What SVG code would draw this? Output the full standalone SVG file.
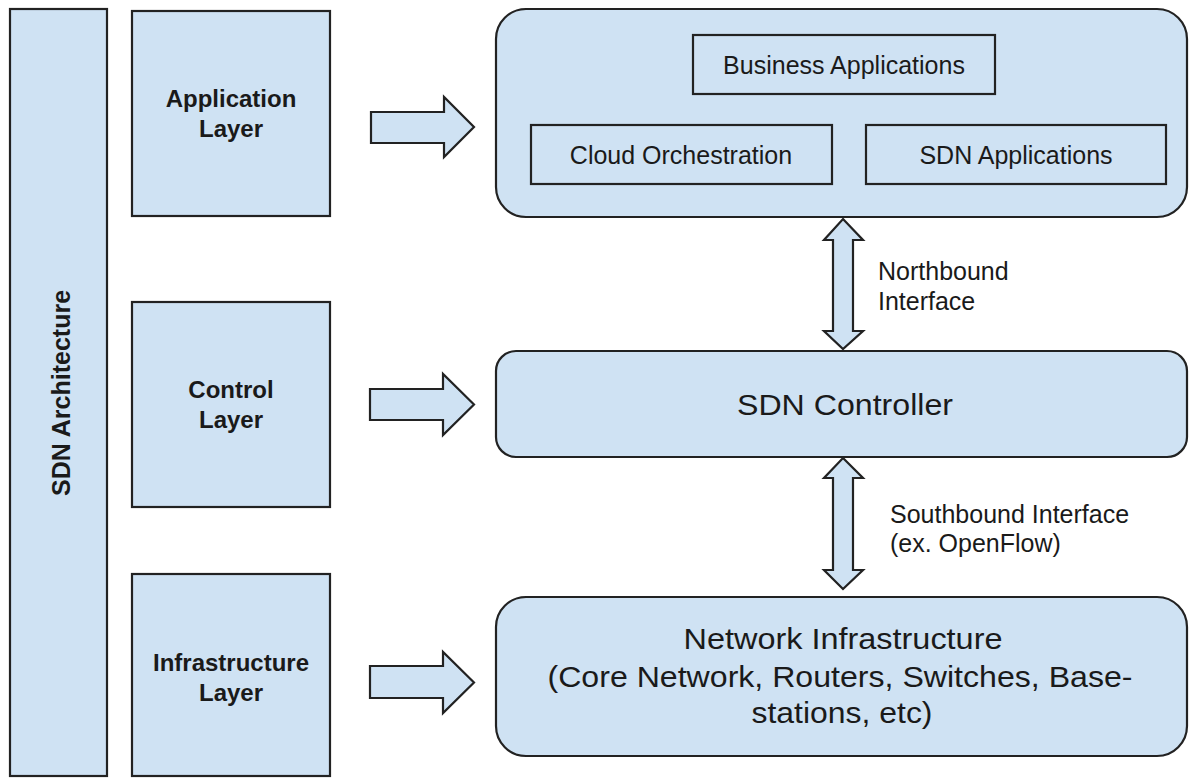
<svg xmlns="http://www.w3.org/2000/svg" width="1190" height="778" viewBox="0 0 1190 778">
<style>
.box{fill:#cfe2f3;stroke:#222;stroke-width:2.2}
.arr{fill:#cfe2f3;stroke:#222;stroke-width:2.2;stroke-linejoin:miter}
.t{font-family:"Liberation Sans",Arial,sans-serif;fill:#1a1a1a}
.b{font-weight:bold;font-size:24px;text-anchor:middle}
.m{font-size:25px;text-anchor:middle}
.l{font-size:25px}
.big{font-size:29px;text-anchor:middle}
</style>
<rect width="1190" height="778" fill="#fff"/>
<g id="sdn-architecture">
<rect class="box" x="10" y="9" width="97" height="767"/>
<text class="t b" style="font-size:25px" transform="translate(70,393) rotate(-90)">SDN Architecture</text>
</g>
<g id="application-layer">
<rect class="box" x="132" y="11" width="198" height="205"/>
<text class="t b" x="231" y="107">Application</text>
<text class="t b" x="231" y="137">Layer</text>
</g>
<g id="control-layer">
<rect class="box" x="132" y="302" width="198" height="205"/>
<text class="t b" x="231" y="398">Control</text>
<text class="t b" x="231" y="428">Layer</text>
</g>
<g id="infrastructure-layer">
<rect class="box" x="132" y="574" width="198" height="202"/>
<text class="t b" x="231" y="671">Infrastructure</text>
<text class="t b" x="231" y="701">Layer</text>
</g>
<g id="application-plane">
<rect class="box" x="496" y="9" width="691" height="208" rx="30"/>
<g id="business-applications">
<rect class="box" x="693" y="35" width="302" height="59"/>
<text class="t m" x="844" y="74">Business Applications</text>
</g>
<g id="cloud-orchestration">
<rect class="box" x="531" y="125" width="301" height="59"/>
<text class="t m" x="681" y="164">Cloud Orchestration</text>
</g>
<g id="sdn-applications">
<rect class="box" x="866" y="125" width="300" height="59"/>
<text class="t m" x="1016" y="164">SDN Applications</text>
</g>
</g>
<g id="sdn-controller">
<rect class="box" x="496" y="351" width="691" height="106" rx="20"/>
<text class="t big" x="845" y="415" textLength="216" lengthAdjust="spacingAndGlyphs">SDN Controller</text>
</g>
<g id="network-infrastructure">
<rect class="box" x="496" y="597" width="691" height="159" rx="30"/>
<text class="t big" x="843" y="649" textLength="319" lengthAdjust="spacingAndGlyphs">Network Infrastructure</text>
<text class="t big" x="840" y="687" textLength="585" lengthAdjust="spacingAndGlyphs">(Core Network, Routers, Switches, Base-</text>
<text class="t big" x="842" y="723" textLength="181" lengthAdjust="spacingAndGlyphs">stations, etc)</text>
</g>
<g id="connectors">
<path class="arr" d="M371,112 H444 V97 L474,127 L444,157 V143 H371 Z"/>
<path class="arr" d="M370,389 H443 V374 L474,404.5 L443,435 V420 H370 Z"/>
<path class="arr" d="M370,666 H443 V652 L474,682.5 L443,713 V698 H370 Z"/>
<path class="arr" d="M843,219 L863,240 H853 V331 H863 L843,349 L824,331 H833 V240 H824 Z"/>
<path class="arr" d="M843,458 L863,478 H853 V570 H863 L843,589 L824,570 H833 V478 H824 Z"/>
<text class="t l" x="878" y="280">Northbound</text>
<text class="t l" x="878" y="310">Interface</text>
<text class="t l" x="890" y="523">Southbound Interface</text>
<text class="t l" x="890" y="552">(ex. OpenFlow)</text>
</g>
</svg>
